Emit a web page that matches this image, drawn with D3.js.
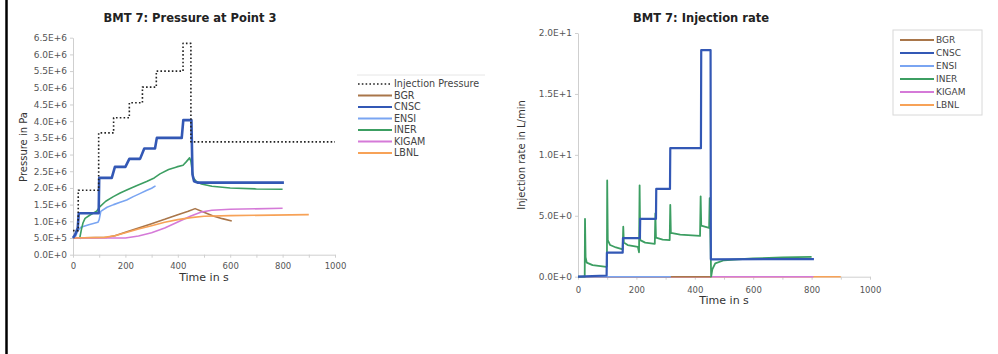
<!DOCTYPE html>
<html>
<head>
<meta charset="utf-8">
<script src="https://cdn.jsdelivr.net/npm/d3@7"></script>
<style>
  body { margin: 0; background: #fff; }
  svg { display: block; font-family: "DejaVu Sans", sans-serif; }
  .axis path, .axis line { stroke: #cfcfcf; }
  .axis text { fill: #555; font-size: 8.5px; font-family: "DejaVu Sans", sans-serif; }
  .axis.y text { font-size: 9px; }
</style>
</head>
<body>
<svg id="chart" width="998" height="354"></svg>
<script>
// ---- data (time in s) ----
const modelNames = ["BGR", "CNSC", "ENSI", "INER", "KIGAM", "LBNL"];

const pressureTicks = d3.range(0, 14).map(i => i * 0.5e6);
const rateTicks = [0, 5, 10, 15, 20];
const timeTicks = d3.range(0, 11).map(i => i * 100);

// pressure at point 3, Pa
const injectionPressure = [[0, 0.72e6], [20, 0.72e6], [20, 1.93e6], [98, 1.93e6], [98, 3.65e6], [155, 3.65e6],
  [155, 4.1e6], [215, 4.1e6], [215, 4.55e6], [265, 4.55e6], [265, 5.02e6], [318, 5.02e6], [318, 5.5e6],
  [420, 5.5e6], [420, 6.33e6], [450, 6.33e6], [450, 3.38e6], [1000, 3.38e6]];
const bgrPressure = [[0, 0.5e6], [130, 0.52e6], [160, 0.57e6], [200, 0.67e6], [250, 0.8e6], [300, 0.93e6],
  [350, 1.06e6], [400, 1.2e6], [440, 1.3e6], [466, 1.38e6], [500, 1.27e6], [535, 1.16e6], [570, 1.08e6], [606, 1.01e6]];
const cnscPressure = [[0, 0.5e6], [8, 0.6e6], [18, 0.8e6], [22, 1.24e6], [98, 1.24e6], [100, 2.3e6], [148, 2.3e6],
  [160, 2.63e6], [200, 2.63e6], [215, 2.87e6], [256, 2.87e6], [272, 3.18e6], [313, 3.18e6], [320, 3.5e6],
  [415, 3.5e6], [421, 4.03e6], [452, 4.03e6], [456, 2.4e6], [462, 2.2e6], [475, 2.16e6], [805, 2.16e6]];
const ensiPressure = [[0, 0.52e6], [10, 0.55e6], [18, 0.72e6], [30, 0.82e6], [60, 0.9e6], [95, 0.97e6], [100, 1.05e6],
  [106, 1.3e6], [130, 1.42e6], [155, 1.5e6], [180, 1.57e6], [205, 1.64e6], [230, 1.74e6], [255, 1.83e6],
  [280, 1.92e6], [300, 1.99e6], [315, 2.06e6]];
const inerPressure = [[25, 0.47e6], [32, 0.75e6], [38, 0.95e6], [46, 1.09e6], [65, 1.19e6], [90, 1.3e6], [103, 1.44e6],
  [125, 1.6e6], [154, 1.74e6], [180, 1.85e6], [205, 1.94e6], [240, 2.06e6], [281, 2.19e6], [310, 2.3e6],
  [332, 2.42e6], [365, 2.55e6], [396, 2.63e6], [420, 2.68e6], [432, 2.78e6], [445, 2.9e6], [450, 2.8e6],
  [455, 2.5e6], [460, 2.3e6], [470, 2.2e6], [490, 2.12e6], [530, 2.05e6], [600, 2.0e6], [700, 1.97e6], [800, 1.96e6]];
const kigamPressure = [[0, 0.5e6], [200, 0.5e6], [250, 0.56e6], [300, 0.66e6], [350, 0.8e6], [400, 0.98e6],
  [450, 1.16e6], [490, 1.28e6], [530, 1.33e6], [600, 1.36e6], [800, 1.39e6]];
const lbnlPressure = [[0, 0.5e6], [120, 0.52e6], [160, 0.57e6], [200, 0.66e6], [250, 0.77e6], [300, 0.87e6],
  [350, 0.97e6], [400, 1.05e6], [450, 1.11e6], [500, 1.15e6], [600, 1.17e6], [900, 1.2e6]];

// injection rate, L/min
const bgrRate = [[0, 0], [455, 0]];
const cnscRate = [[0, 0], [98, 0.1], [99, 1.97], [153, 1.97], [154, 3.16], [212, 3.16], [213, 4.75], [267, 4.75],
  [268, 7.2], [315, 7.2], [316, 10.55], [421, 10.55], [422, 18.6], [454, 18.6], [455, 1.43], [808, 1.45]];
const ensiRate = [[0, 0], [318, 0]];
const inerRate = [[0, 0], [23, 0], [24, 4.75], [26, 1.6], [30, 1.15], [50, 0.95], [97, 0.8], [99, 0.85], [100, 7.9],
  [102, 3.0], [110, 2.6], [130, 2.4], [153, 2.25], [155, 4.1], [157, 2.8], [170, 2.6], [205, 2.45], [209, 2.0],
  [211, 7.5], [213, 3.0], [230, 2.8], [263, 2.7], [265, 5.2], [267, 3.2], [290, 3.05], [314, 3.0], [316, 5.9],
  [318, 3.6], [350, 3.45], [418, 3.35], [420, 6.6], [422, 4.2], [449, 4.0], [451, 6.45], [456, 0], [460, 0.6],
  [470, 1.1], [500, 1.35], [600, 1.5], [700, 1.58], [800, 1.62]];
const kigamRate = [[0, 0], [806, 0]];
const lbnlRate = [[0, 0], [900, 0]];

const colors = { BGR: "#a9764a", CNSC: "#3358b5", ENSI: "#7aa5f2", INER: "#3c9e62", KIGAM: "#d57ad8", LBNL: "#f7a257" };

const svg = d3.select("#chart");
const sci = d => d.toExponential(1).replace("e", "E");

// frame line on the left edge
svg.append("line").attr("x1", 6.5).attr("x2", 6.5).attr("y1", 0).attr("y2", 354)
  .attr("stroke", "#000").attr("stroke-width", 2.5);

function drawPanel(p) {
  const x = d3.scaleLinear().domain([0, 1000]).range([p.x0, p.x1]);
  const y = d3.scaleLinear().domain(p.yDomain).range([p.y0, p.y1]);

  svg.append("g").attr("class", "axis x")
    .attr("transform", `translate(0,${p.y0})`)
    .call(d3.axisBottom(x).tickValues(timeTicks).tickSize(3).tickSizeOuter(0).tickPadding(p.xPad)
      .tickFormat(d => d % 200 === 0 ? d : ""));

  svg.append("g").attr("class", "axis y")
    .attr("transform", `translate(${p.x0},0)`)
    .call(d3.axisLeft(y).tickValues(p.yTicks).tickSize(3).tickSizeOuter(0).tickPadding(3).tickFormat(sci));

  const line = d3.line().x(d => x(d[0])).y(d => y(d[1]));
  p.series.forEach(s => {
    svg.append("path")
      .datum(s.data)
      .attr("d", line)
      .attr("fill", "none")
      .attr("stroke", s.color)
      .attr("stroke-width", s.width || 1.6)
      .attr("stroke-dasharray", s.dash || null)
      .attr("stroke-linejoin", "round");
  });

  svg.append("text").attr("x", p.titleX).attr("y", p.titleY).attr("text-anchor", "middle")
    .attr("font-size", 11.5).attr("font-weight", "bold").attr("fill", "#222").text(p.title);
  svg.append("text").attr("x", (p.x0 + p.x1) / 2).attr("y", p.xLabelY).attr("text-anchor", "middle")
    .attr("font-size", 11).attr("fill", "#333").text("Time in s");
  svg.append("text").attr("transform", `translate(${p.yLabelX},${p.yLabelY}) rotate(-90)`)
    .attr("text-anchor", "middle").attr("font-size", 10).attr("fill", "#333").text(p.yLabel);
}

function drawLegend(items, lx, ly, step, box) {
  const g = svg.append("g");
  if (box) {
    g.append("rect").attr("x", box[0]).attr("y", box[1]).attr("width", box[2]).attr("height", box[3])
      .attr("fill", "none").attr("stroke", "#d8d8d8");
  } else {
    g.append("line").attr("x1", lx - 1).attr("x2", lx + 127).attr("y1", ly - 9).attr("y2", ly - 9)
      .attr("stroke", "#e6e6e6");
  }
  items.forEach((it, i) => {
    const cy = ly + i * step;
    g.append("line").attr("x1", lx).attr("x2", lx + 34).attr("y1", cy).attr("y2", cy)
      .attr("stroke", it.color).attr("stroke-width", it.dash ? 1.6 : 2)
      .attr("stroke-dasharray", it.dash || null);
    g.append("text").attr("x", lx + 36).attr("y", cy + 3.3).attr("font-size", box ? 9 : 9.6)
      .attr("fill", "#444").text(it.name);
  });
}

// ---- left: pressure at point 3 ----
const pressureSeries = [
  { name: "BGR", data: bgrPressure },
  { name: "ENSI", data: ensiPressure },
  { name: "INER", data: inerPressure },
  { name: "KIGAM", data: kigamPressure },
  { name: "LBNL", data: lbnlPressure },
  { name: "CNSC", data: cnscPressure, width: 2.6 }
].map(s => ({ ...s, color: colors[s.name] }));
pressureSeries.push({ name: "Injection Pressure", data: injectionPressure, color: "#222", width: 1.6, dash: "1.6,2.2" });

drawPanel({
  x0: 73, x1: 335, y0: 254.7, y1: 37.7, yDomain: [0, 6.5e6], yTicks: pressureTicks, xPad: 5,
  series: pressureSeries, title: "BMT 7: Pressure at Point 3", titleX: 190, titleY: 21.5,
  xLabelY: 281, yLabel: "Pressure in Pa", yLabelX: 27, yLabelY: 147
});

drawLegend([{ name: "Injection Pressure", color: "#222", dash: "1.6,2.2" }]
  .concat(modelNames.map(n => ({ name: n, color: colors[n] }))), 358, 84, 11.5, null);

// ---- right: injection rate ----
const rateSeries = [
  { name: "LBNL", data: lbnlRate },
  { name: "KIGAM", data: kigamRate },
  { name: "BGR", data: bgrRate },
  { name: "ENSI", data: ensiRate },
  { name: "INER", data: inerRate, width: 1.8 },
  { name: "CNSC", data: cnscRate, width: 2.2 }
].map(s => ({ ...s, color: colors[s.name] }));

drawPanel({
  x0: 578, x1: 870, y0: 276.7, y1: 33, yDomain: [0, 20], yTicks: rateTicks, xPad: 7,
  series: rateSeries, title: "BMT 7: Injection rate", titleX: 701, titleY: 22,
  xLabelY: 304, yLabel: "Injection rate in L/min", yLabelX: 525, yLabelY: 155
});

drawLegend(modelNames.map(n => ({ name: n, color: colors[n] })), 900, 40, 13, [893, 30, 89, 85]);
</script>
</body>
</html>
